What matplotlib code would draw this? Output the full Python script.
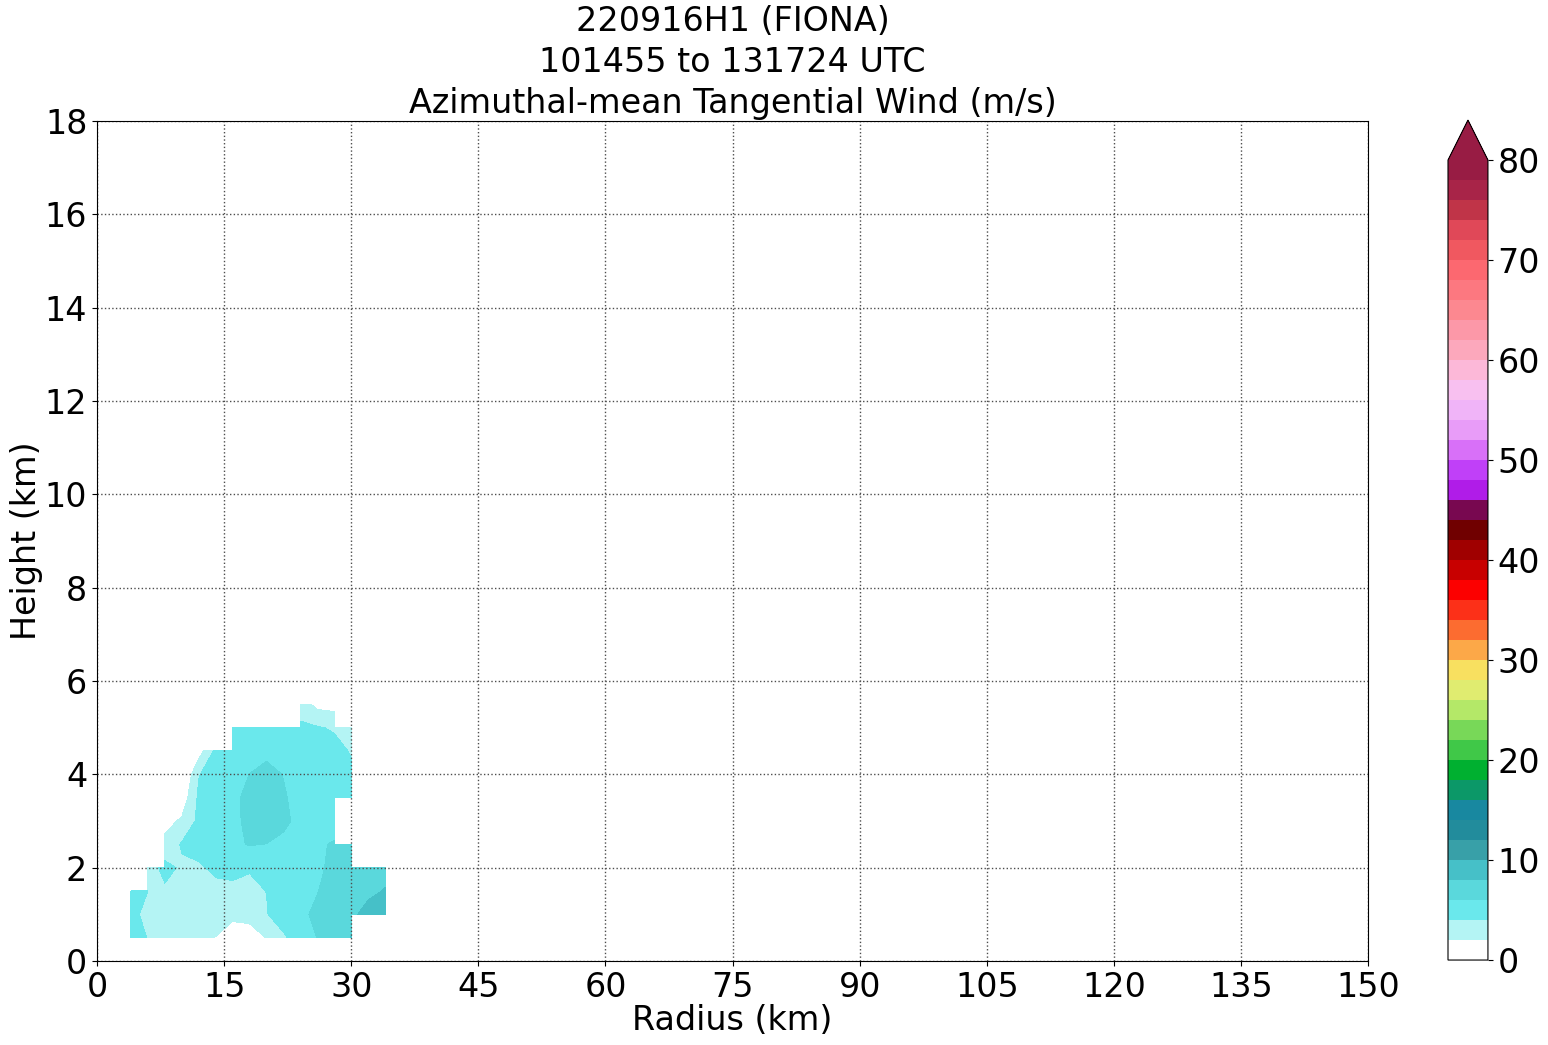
import numpy as np
import matplotlib
matplotlib.use('Agg')
import matplotlib.pyplot as plt
from matplotlib.colors import ListedColormap, BoundaryNorm

nan = np.nan

# radial / vertical grid of the analysis (km)
radius = np.arange(4, 36, 2)
height = np.arange(0.5, 6.0, 0.5)

# azimuthal-mean tangential wind (m/s), rows = height, cols = radius
vt = np.array([
    [4.6, 3.95, 3.4, 3.0, 2.6, 1.95, 1.2, 1.2, 2.05, 3.7, 5.0, 6.05, 6.8, 8.05, nan, nan],
    [4.4, 3.6, 3.3, 3.1, 3.0, 2.9, 2.35, 2.55, 3.9, 5.0, 5.7, 6.3, 6.9, 7.6, 8.65, 9.2],
    [4.6, 4.0, 3.7, 3.4, 3.3, 3.6, 3.6, 3.7, 4.02, 5.0, 5.4, 5.95, 6.6, 7.2, 7.6, 8.1],
    [nan, 3.0, 4.6, 3.7, 3.8, 4.3, 4.5, 4.1, 4.6, 5.0, 5.2, 5.7, 6.4, 6.8, 7.0, 7.4],
    [nan, nan, 2.6, 4.2, 4.6, 5.0, 5.7, 6.1, 5.98, 5.5, 5.3, 5.85, 6.1, 6.4, nan, nan],
    [nan, nan, 1.3, 2.3, 4.47, 5.2, 5.6, 6.4, 6.6, 6.45, 5.4, 5.3, 5.5, nan, nan, nan],
    [nan, nan, 0.0, 0.73, 4.37, 5.0, 5.5, 6.6, 6.9, 6.15, 5.5, 5.2, 5.2, 4.9, nan, nan],
    [nan, nan, -0.5, -0.5, 3.9, 5.0, 5.3, 6.02, 6.5, 5.95, 5.3, 5.2, 5.0, 4.32, nan, nan],
    [nan, nan, -0.5, -0.5, 1.07, 4.46, 5.0, 5.4, 5.6, 5.3, 5.0, 4.8, 4.6, 3.85, nan, nan],
    [nan, nan, nan, nan, nan, nan, 4.6, 4.8, 4.9, 4.8, 4.4, 4.15, 3.8, 2.8, nan, nan],
    [nan, nan, nan, nan, nan, nan, nan, nan, nan, nan, 3.0, 1.4, 1.2, nan, nan, nan],
])

levels = np.arange(0, 82, 2)
colors = [
    '#ffffff', '#b4f4f4', '#6ae8ec', '#5ad8dc', '#46c0c8', '#38a0a8', '#228c9c', '#1888a0',
    '#0c9868', '#00b030', '#40c848', '#78d858', '#b4e868', '#e0ec70', '#f8e060', '#fca848',
    '#fc6c30', '#fc3018', '#fc0000', '#c80000', '#a00000', '#700000', '#780850', '#b01ce8',
    '#c040f8', '#d870f8', '#e89cf8', '#f0b4f8', '#f8c0f0', '#fcb8d8', '#fca8bc', '#fc98a8',
    '#fc8890', '#fc7880', '#fc6870', '#f05860', '#e04858', '#c03448', '#a82448', '#981c44',
]
cmap = ListedColormap(colors)
cmap.set_over('#981c44')
norm = BoundaryNorm(levels, cmap.N)

fig = plt.figure(figsize=(15.48, 10.45), dpi=100)
ax = fig.add_axes([0.0627, 0.0804, 0.8211, 0.8038])
cax = fig.add_axes([0.9354, 0.0813, 0.0258, 0.8038])

R, Z = np.meshgrid(radius, height)
cf = ax.contourf(R, Z, np.ma.masked_invalid(vt), levels=levels, cmap=cmap, norm=norm,
                 extend='max', corner_mask=False)

ax.set_xlim(0, 150)
ax.set_ylim(0, 18)
ax.set_xticks(np.arange(0, 151, 15))
ax.set_yticks(np.arange(0, 19, 2))
ax.tick_params(labelsize=24)
ax.grid(True, linestyle=':', color='0.3', linewidth=1)
ax.set_xlabel('Radius (km)', fontsize=24, labelpad=0)
ax.set_ylabel('Height (km)', fontsize=24, labelpad=1)
ax.set_title('220916H1 (FIONA)\n101455 to 131724 UTC\nAzimuthal-mean Tangential Wind (m/s)',
             fontsize=24, linespacing=1.3)

cb = fig.colorbar(cf, cax=cax, ticks=np.arange(0, 81, 10))
cb.minorticks_off()
cb.ax.tick_params(labelsize=24)

fig.savefig('out.png', dpi=100)
